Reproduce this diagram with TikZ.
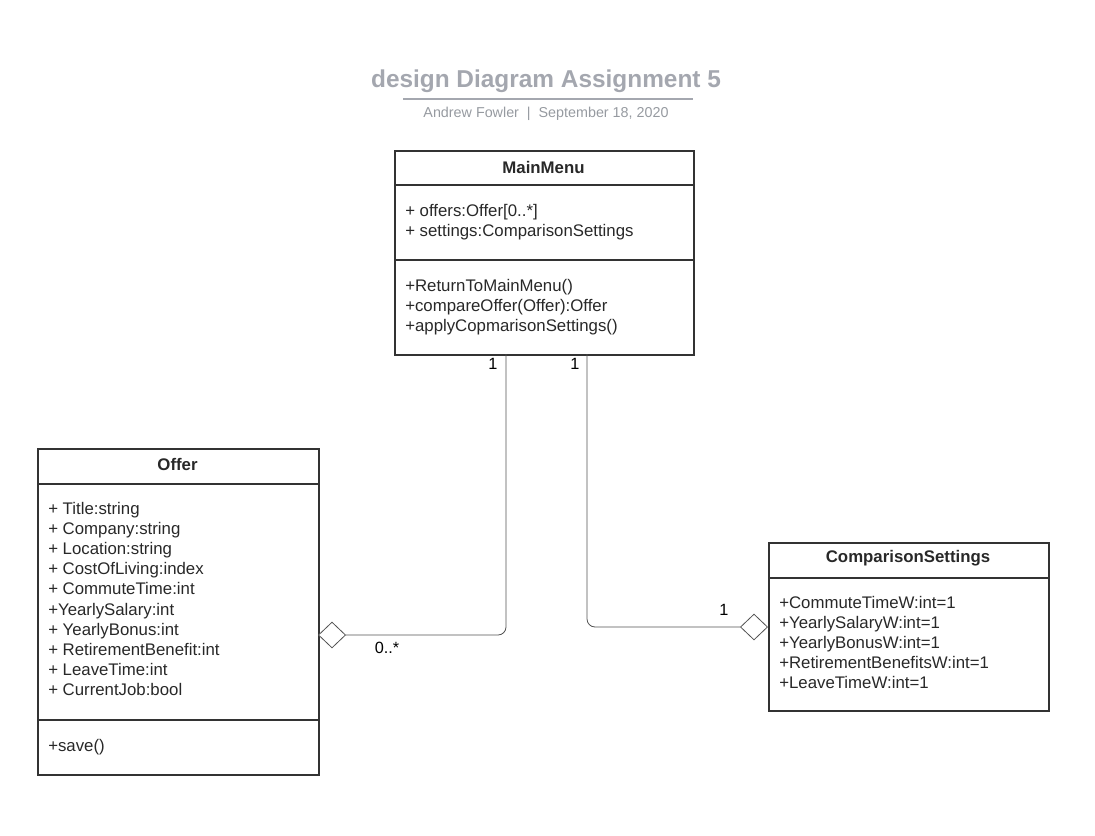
\documentclass[tikz,border=0pt]{standalone}
\usepackage{fontspec}
\setmainfont{Liberation Sans}
\usetikzlibrary{positioning, arrows.meta, calc}
\definecolor{titlegray}{RGB}{164,167,175}
\definecolor{subgray}{RGB}{150,154,160}
\definecolor{boxline}{RGB}{51,51,51}
\definecolor{textdark}{RGB}{40,40,40}
\tikzset{
    classbox/.style={
        draw=boxline,
        line width=1.2pt,
        anchor=north west,
        inner sep=0pt
    },
    classname/.style={
        font=\fontsize{12.6}{15}\selectfont\bfseries,
        text=textdark
    },
    member/.style={
        anchor=base west,
        inner sep=0pt,
        font=\fontsize{12.6}{15}\selectfont,
        text=textdark
    },
    sep/.style={
        draw=boxline,
        line width=1.2pt
    },
    assoc/.style={
        draw=boxline!85,
        line width=0.6pt,
        rounded corners=6pt
    },
    mult/.style={
        font=\fontsize{12.2}{14}\selectfont,
        text=black,
        inner sep=0pt
    }
}

\begin{document}
\begin{tikzpicture}[x=0.75pt, y=-0.75pt]

      \useasboundingbox (0,0) rectangle (1095,835);

      % title
      \node[font=\fontsize{18.3}{21}\selectfont\bfseries, text=titlegray] (title) at (546,81) {design Diagram Assignment 5};
      \coordinate (tl) at (403,99);
      \coordinate (tr) at (693,99);
      \draw[titlegray, line width=1.4pt] (tl) -- (tr);
      \node[font=\fontsize{10.75}{12}\selectfont, text=subgray] (subtitle) at (546,114) {Andrew Fowler~~|~~September 18, 2020};

      % MainMenu
      \node[classbox, minimum width=224.25pt, minimum height=153pt] (mainmenu) at (394,150) {};
      \node[classname] (mainmenu-name) at (543.5,167) {MainMenu};
      \draw[sep] (394,185) -- (693,185);
      \draw[sep] (394,260) -- (693,260);
      \foreach \t [count=\i] in {+ offers:Offer[0..*], + settings:ComparisonSettings}
        {
          \node[member] (mm-a\i) at (405,{216+20*(\i-1)}) {\t};
        }
      \foreach \t [count=\i] in {+ReturnToMainMenu(), +compareOffer(Offer):Offer, +applyCopmarisonSettings()}
        {
          \node[member] (mm-m\i) at (405,{291+20*(\i-1)}) {\t};
        }

      % Offer
      \node[classbox, minimum width=210.75pt, minimum height=244.5pt] (offer) at (37,448) {};
      \node[classname] (offer-name) at (177.5,464) {Offer};
      \draw[sep] (37,484) -- (318,484);
      \draw[sep] (37,720) -- (318,720);
      \foreach \t [count=\i] in {+ Title:string, + Company:string, + Location:string, + CostOfLiving:index, + CommuteTime:int, +YearlySalary:int, + YearlyBonus:int, + RetirementBenefit:int, + LeaveTime:int, + CurrentJob:bool}
        {
          \node[member] (off-a\i) at (48,{514+20.2*(\i-1)}) {\t};
        }
      \node[member] (off-m1) at (48,751) {+save()};

      % ComparisonSettings
      \node[classbox, minimum width=210pt, minimum height=126pt] (settings) at (768,542) {};
      \node[classname] (settings-name) at (908,558) {ComparisonSettings};
      \draw[sep] (768,578) -- (1048,578);
      \foreach \t [count=\i] in {+CommuteTimeW:int=1, +YearlySalaryW:int=1, +YearlyBonusW:int=1, +RetirementBenefitsW:int=1, +LeaveTimeW:int=1}
        {
          \node[member] (set-a\i) at (779,{608+20*(\i-1)}) {\t};
        }

      % aggregations
      \coordinate (mmA) at (506,354);
      \coordinate (mmB) at (587,354);
      \coordinate (offA) at (318,635);
      \coordinate (setA) at (768,627);
      \draw[assoc, {Diamond[open, fill=white, length=21pt, width=20pt, line width=0.6pt]}-] (offA) -| (mmA);
      \draw[assoc, {Diamond[open, fill=white, length=21pt, width=20pt, line width=0.6pt]}-] (setA) -| (mmB);

      \node[mult] (m1) at (493,364) {1};
      \node[mult] (m2) at (575,364) {1};
      \node[mult] (m3) at (387,648) {0..*};
      \node[mult] (m4) at (724,610) {1};

    \end{tikzpicture}
\end{document}
